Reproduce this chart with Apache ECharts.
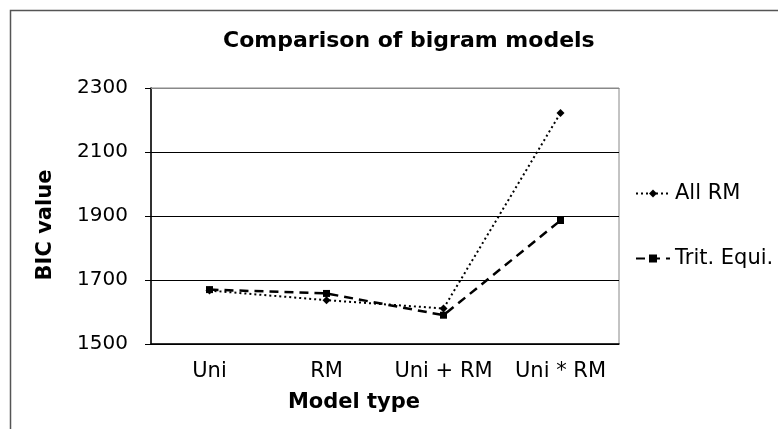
<!DOCTYPE html>
<html lang="en">
<head>
    <meta charset="UTF-8">
    <title>Comparison of bigram models</title>
    <style>
        html, body { margin: 0; padding: 0; background: #fff; }
        #main { width: 778px; height: 429px; }
    </style>
</head>
<body>
    <div id="main"></div>
    <script src="https://cdn.jsdelivr.net/npm/echarts@6/dist/echarts.min.js"></script>
    <script>
        // data
        var categories = ['Uni', 'RM', 'Uni + RM', 'Uni * RM'];
        var allRM = [1667, 1637, 1611, 2222];
        var tritEqui = [1670, 1658, 1590, 1886];

        var font = 'DejaVu Sans, Verdana, sans-serif';
        var myChart = echarts.init(document.getElementById('main'));

        var option = {
            animation: false,
            textStyle: { fontFamily: font, color: '#000' },
            title: {
                text: 'Comparison of bigram models',
                left: 218,
                top: 25,
                textStyle: { fontFamily: font, fontSize: 22, fontWeight: 'bold', color: '#000' }
            },
            // outer frame of the chart
            graphic: [{
                type: 'rect',
                left: 8, top: 8,
                shape: { width: 820, height: 480 },
                style: { fill: 'none', stroke: '#555', lineWidth: 1.5 },
                silent: true
            }],
            legend: {
                orient: 'vertical',
                left: 630,
                top: 178,
                itemGap: 44,
                itemWidth: 34,
                itemHeight: 10,
                textStyle: { fontFamily: font, fontSize: 21, color: '#000' },
                data: ['All RM', 'Trit. Equi.']
            },
            grid: {
                left: 151, right: 159, top: 88, bottom: 85,
                show: true,
                borderColor: '#888',
                borderWidth: 1
            },
            xAxis: [{
                type: 'category',
                data: categories,
                boundaryGap: true,
                name: 'Model type',
                nameLocation: 'middle',
                nameGap: 48,
                nameTextStyle: {
                    fontFamily: font, fontSize: 21, fontWeight: 'bold', color: '#000',
                    padding: [0, 62, 0, 0]
                },
                axisLine: { lineStyle: { color: '#000', width: 1.5 } },
                axisTick: { length: 6, lineStyle: { color: '#000' } },
                axisLabel: { fontFamily: font, fontSize: 21, color: '#000', margin: 17, interval: 0 }
            }, {
                type: 'category',
                data: categories,
                position: 'top',
                axisLine: { lineStyle: { color: '#888', width: 1 } },
                axisTick: { show: false },
                axisLabel: { show: false }
            }],
            yAxis: {
                type: 'value',
                min: 1500,
                max: 2300,
                interval: 200,
                name: 'BIC value',
                nameLocation: 'middle',
                nameGap: 95,
                nameTextStyle: {
                    fontFamily: font, fontSize: 21, fontWeight: 'bold', color: '#000',
                    padding: [0, 18, 0, 0]
                },
                axisLine: { show: true, lineStyle: { color: '#000', width: 1.5 } },
                axisTick: { show: true, length: 6, lineStyle: { color: '#000' } },
                axisLabel: {
                    fontFamily: font, fontSize: 20, color: '#000', margin: 23,
                    formatter: function (v) { return String(v); }
                },
                splitLine: { lineStyle: { color: '#000', width: 1 } }
            },
            series: [{
                name: 'All RM',
                type: 'line',
                data: allRM,
                symbol: 'diamond',
                symbolSize: 8,
                itemStyle: { color: '#000' },
                lineStyle: { color: '#000', width: 2, type: [2, 3] }
            }, {
                name: 'Trit. Equi.',
                type: 'line',
                data: tritEqui,
                symbol: 'rect',
                symbolSize: 7,
                itemStyle: { color: '#000' },
                lineStyle: { color: '#000', width: 2.5, type: [9, 6] }
            }]
        };
        option && myChart.setOption(option);
    </script>
</body>
</html>
